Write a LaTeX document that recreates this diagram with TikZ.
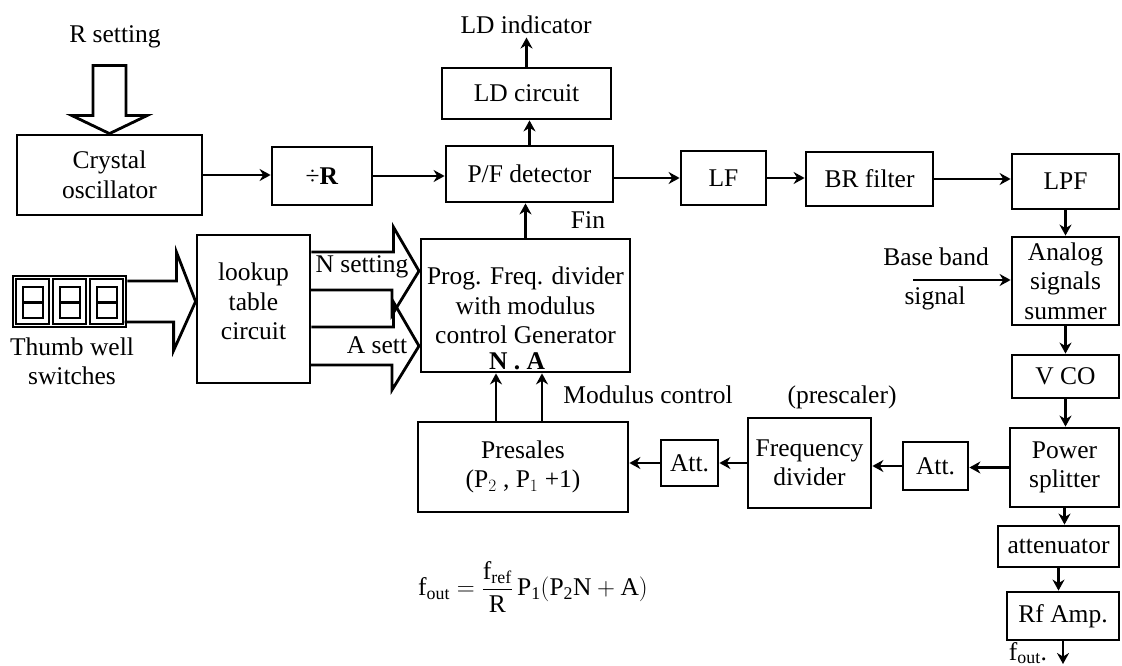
\documentclass[tikz,border=0pt]{standalone}
\usepackage{amsmath}
\usepackage{fontspec}
\setmainfont{Liberation Serif}
\usetikzlibrary{arrows.meta}

\begin{document}
\begin{tikzpicture}[x=1pt,y=-1pt,>={Stealth[length=11pt,width=12pt]},
  every node/.style={font=\fontsize{25.5}{29.5}\selectfont},
  blk/.style={draw,line width=2.8pt,align=center,inner sep=2pt},
  sig/.style={->,line width=2.8pt},
  wide/.style={line width=2.8pt,line join=miter}]
  \useasboundingbox (0,0) rectangle (1122,666);
  % upper loop
  \node[blk,minimum width=185pt,minimum height=80pt] (xtal) at (109.5,175) {Crystal\\oscillator};
  \node[blk,minimum width=100pt,minimum height=58pt] (divr) at (322,176) {÷\textbf{R}};
  \node[blk,minimum width=167pt,minimum height=56pt] (pfd) at (529.5,174) {P/F detector};
  \node[blk,minimum width=169pt,minimum height=51pt] (ldc) at (526.5,93.5) {LD circuit};
  \node (ldind) at (526,25) {LD indicator};
  \node[blk,minimum width=85pt,minimum height=54pt] (lf) at (723.5,178) {LF};
  \node[blk,minimum width=127pt,minimum height=54pt] (brf) at (869.5,179) {BR filter};
  \node[blk,minimum width=107pt,minimum height=55pt] (lpf) at (1065.5,181.5) {LPF};
  \node (rset) at (115,37) {R setting};
  % right column
  \node[blk,minimum width=107pt,minimum height=88pt] (sum) at (1065.5,281) {Analog\\signals\\summer};
  \node[blk,minimum width=107pt,minimum height=43pt] (vco) at (1065.5,376.5) {V CO};
  \node[blk,minimum width=109pt,minimum height=79pt] (split) at (1064.5,467.5) {Power\\splitter};
  \node[blk,minimum width=121pt,minimum height=41pt] (atten) at (1058.5,546.5) {attenuator};
  \node[blk,minimum width=112pt,minimum height=48pt] (rfamp) at (1063,616) {Rf Amp.};
  \node (fouttxt) at (1028,653) {f$_{\mathrm{out}}$.};
  \coordinate (fout) at (1063,664);
  \node (bbtop) at (936,257) {Base band};
  \node (bbbot) at (935,298) {signal};
  \coordinate (bb) at (913,280);
  % feedback row
  \node[blk,minimum width=65pt,minimum height=48pt] (att2) at (935.5,466) {Att.};
  \node[blk,minimum width=123pt,minimum height=90pt] (fdiv) at (809.5,463) {Frequency\\divider};
  \node (presc) at (842,397) {(prescaler)};
  \node[blk,minimum width=57pt,minimum height=46pt] (att1) at (689.5,463) {Att.};
  \node[blk,minimum width=210pt,minimum height=90pt] (pre) at (523,467) {Presales\\(P$_2$ , P$_1$ +1)};
  \node (modc) at (648,395) {Modulus control};
  % divider and setting
  \node[blk,minimum width=209pt,minimum height=133pt] (prog) at (525.5,305.5) {Prog. Freq. divider\\with modulus\\control Generator};
  \node (na) at (517,361) {\textbf{N . A}};
  \node (fin) at (588,220) {Fin};
  \node[blk,minimum width=113pt,minimum height=148pt] (lut) at (253.5,309) {lookup\\table\\circuit\\[-14pt]};
  \node[draw,line width=2.8pt,minimum width=113pt,minimum height=51pt] (thumb) at (69.5,301.5) {};
  \foreach \i in {0,1,2} {
    \draw[line width=2.2pt] (16+37*\i,279) rectangle ++(33,45);
    \draw[line width=2.2pt] (23+37*\i,287) rectangle ++(20,31) (23+37*\i,302.5) -- ++(20,0);
  }
  \node[align=center] (tws) at (72,361.5) {Thumb well\\switches};
  \node (nset) at (362,267) {N setting};
  \node (aset) at (377,345) {A sett};
  \coordinate (ntip) at (419,271);
  \coordinate (atip) at (419,346);

  % hollow arrows
  \draw[wide] (xtal.north) -- ++(-37.5,-18) -- ++(21,0) -- ++(0,-50) -- ++(33,0) -- ++(0,50) -- ++(21,0) -- cycle;
  \draw[wide] (thumb.east) ++(0,-20.5) -- ++(49,0) -- ++(0,-29) -- (lut.west |- thumb.east) -- ++(-22,49) -- ++(0,-28.5) -- ++(-49,0);
  \draw[wide] (lut.east |- ntip) ++(0,-19) -- ++(82,0) -- ++(0,-25) -- (ntip) -- ++(-27,44) -- ++(0,-25) -- ++(-82,0);
  \draw[wide] (lut.east |- atip) ++(0,-19) -- ++(82,0) -- ++(0,-25) -- (atip) -- ++(-27,44) -- ++(0,-25) -- ++(-82,0);

  % signal paths
  \draw[sig] (xtal.east) -- (xtal.east -| divr.west);
  \draw[sig] (divr.east) -- (divr.east -| pfd.west);
  \draw[sig] (pfd.north) -- (pfd.north |- ldc.south);
  \draw[sig] (ldc.north) -- (ldc.north |- ldind.south);
  \draw[sig] (lf.west -| pfd.east) -- (lf.west);
  \draw[sig] (lf.east) -- (lf.east -| brf.west);
  \draw[sig] (brf.east) -- (brf.east -| lpf.west);
  \draw[sig] (lpf.south) -- (lpf.south |- sum.north);
  \draw[sig] (bb) -- (bb -| sum.west);
  \draw[sig] (sum.south) -- (sum.south |- vco.north);
  \draw[sig] (vco.south) -- (vco.south |- split.north);
  \draw[sig] (split.south) -- (split.south |- atten.north);
  \draw[sig] (atten.south) -- (atten.south |- rfamp.north);
  \draw[sig] (rfamp.south) -- (rfamp.south |- fout);
  \draw[sig] (split.west) -- (split.west -| att2.east);
  \draw[sig] (att2.west) -- (att2.west -| fdiv.east);
  \draw[sig] (fdiv.west) -- (fdiv.west -| att1.east);
  \draw[sig] (att1.west) -- (att1.west -| pre.east);
  \draw[sig] (prog.north) -- (prog.north |- pfd.south);
  \path (pre.north) ++(-27,0) coordinate (pn) ++(46,0) coordinate (pa);
  \draw[sig] (pn) -- (pn |- prog.south);
  \draw[sig] (pa) -- (pa |- prog.south);

  \node (eq) at (533,587) {$\displaystyle\mathrm{f_{out}}=\frac{\mathrm{f_{ref}}}{\mathrm{R}}\,\mathrm{P_1(P_2N+A)}$};
\end{tikzpicture}
\end{document}
